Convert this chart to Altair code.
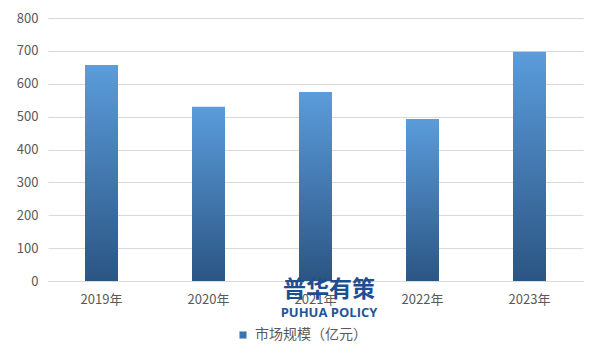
import altair as alt
import pandas as pd

years = ["2019年", "2020年", "2021年", "2022年", "2023年"]
values = [657, 530, 575, 493, 697]
series = "市场规模（亿元）"
y_ticks = [0, 100, 200, 300, 400, 500, 600, 700, 800]

df = pd.DataFrame({"year": years, "value": values, "series": [series] * len(years)})

FONT = "Noto Sans CJK SC"
GRAY = "#595959"

grad = alt.Gradient(
    gradient="linear",
    stops=[alt.GradientStop(color="#5b9cdb", offset=0),
           alt.GradientStop(color="#2b5583", offset=1)],
    x1=0, x2=0, y1=0, y2=1,
)

base = alt.Chart(df)

bars = base.mark_bar(color=grad, size=33).encode(
    x=alt.X("year:N", sort=years, title=None,
            axis=alt.Axis(labelAngle=0, labelFont=FONT, labelFontSize=13, labelColor=GRAY,
                          ticks=False, domain=True, domainColor="#d9d9d9", labelPadding=12)),
    y=alt.Y("value:Q", title=None,
            scale=alt.Scale(domain=[0, 800]),
            axis=alt.Axis(values=y_ticks, labelFont=FONT, labelFontSize=13,
                          labelColor=GRAY, ticks=False, domain=False, gridColor="#d9d9d9",
                          labelPadding=10, labelOverlap=False)),
)

legend_layer = base.mark_square(opacity=0).encode(
    color=alt.Color("series:N", scale=alt.Scale(range=["#3d74b0"]), title=None,
                    legend=alt.Legend(orient="none", legendX=188, legendY=310,
                                      symbolType="square", symbolSize=50, symbolOpacity=1,
                                      symbolStrokeWidth=0, labelFont=FONT, labelFontSize=14,
                                      labelColor=GRAY, labelOffset=5)),
)

wm1 = alt.Chart(pd.DataFrame({"t": ["普华有策"]})).mark_text(
    font=FONT, fontSize=23, fontWeight="bold", color="#1f4e8f", baseline="middle"
).encode(text="t:N", x=alt.value(281), y=alt.value(272))

wm2 = alt.Chart(pd.DataFrame({"t": ["PUHUA POLICY"]})).mark_text(
    font="Open Sans", fontSize=13, fontWeight="bold", color="#1f5597", baseline="middle"
).encode(text="t:N", x=alt.value(281), y=alt.value(295))

chart = alt.layer(bars, legend_layer, wm1, wm2).properties(
    width=535, height=263,
    autosize=alt.AutoSizeParams(type="none"),
    padding={"left": 40, "top": 10, "right": 10, "bottom": 72},
    background="white",
).configure_view(stroke=None)

chart.save("out.html", embed_options={"renderer": "svg", "actions": False})
